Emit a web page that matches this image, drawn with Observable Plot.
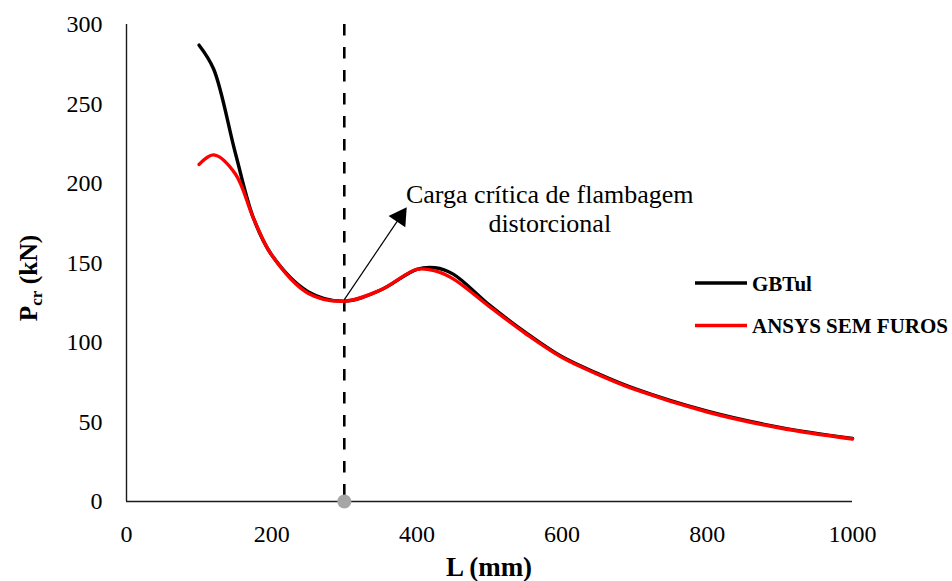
<!DOCTYPE html>
<html>
<head>
<meta charset="utf-8">
<script src="https://cdn.jsdelivr.net/npm/d3@7"></script>
<script src="https://cdn.jsdelivr.net/npm/@observablehq/plot@0.6"></script>
<style>
  html, body { margin: 0; padding: 0; background: #fff; }
  #chart { width: 952px; height: 581px; }
</style>
</head>
<body>
<div id="chart"></div>
<script>
// ---- data ----
const lengths = [100, 120, 150, 175, 200, 250, 300, 350, 400, 425, 450, 500, 550, 600, 650, 700, 800, 900, 1000];
const gbtul   = [287, 272, 219, 178, 155, 132, 126, 133, 146, 147, 143, 123.5, 106.2, 91, 80.3, 71, 56.8, 46.6, 39.6];
const ansys   = [212, 218, 206, 178, 155, 131, 126, 133, 146, 145, 140, 122.5, 105.5, 90.5, 79.8, 70.5, 56.3, 46.2, 39.3];
const seriesNames = ["GBTul", "ANSYS SEM FUROS"];
const xTicks = [0, 200, 400, 600, 800, 1000];
const yTicks = [0, 50, 100, 150, 200, 250, 300];
const criticalL = [300];
const criticalPoint = [{L: 300, P: 0}];
const arrowData = [{x1: 300, y1: 127, x2: 377, y2: 179}];
const arrowHead = [{L: 377, P: 179}];
const annotation = [{L: 583, P: 201, text: "Carga crítica de flambagem\ndistorcional"}];

const rowsG = lengths.map((L, i) => ({L, P: gbtul[i], s: seriesNames[0]}));
const rowsA = lengths.map((L, i) => ({L, P: ansys[i], s: seriesNames[1]}));

const FONT = "'Liberation Serif', 'Times New Roman', serif";

const plot = Plot.plot({
  width: 952,
  height: 581,
  marginLeft: 126,
  marginRight: 100,
  marginTop: 24,
  marginBottom: 80,
  style: {fontFamily: FONT, color: "#000", background: "#fff"},
  x: {domain: [0, 1000]},
  y: {domain: [0, 300]},
  marks: [
    Plot.axisX({ticks: xTicks, tickSize: 0, tickPadding: 23, fontSize: 24, label: null, tickFormat: d => String(d)}),
    Plot.axisY({ticks: yTicks, tickSize: 0, tickPadding: 24, fontSize: 24, label: null, tickFormat: d => String(d)}),
    Plot.ruleX([0], {stroke: "#1a1a1a", strokeWidth: 1.4}),
    Plot.ruleY([0], {stroke: "#1a1a1a", strokeWidth: 1.4}),
    Plot.ruleX(criticalL, {stroke: "#000", strokeWidth: 2.6, strokeDasharray: "11.5,11.5"}),
    Plot.line(rowsG, {x: "L", y: "P", stroke: "#000", strokeWidth: 3.4, curve: "catmull-rom"}),
    Plot.line(rowsA, {x: "L", y: "P", stroke: "#ff0000", strokeWidth: 3.4, curve: "catmull-rom"}),
    Plot.dot(criticalPoint, {x: "L", y: "P", r: 7, fill: "#a6a6a6", stroke: "none"}),
    Plot.link(arrowData, {x1: "x1", y1: "y1", x2: "x2", y2: "y2", stroke: "#000", strokeWidth: 1.2}),
    Plot.dot(arrowHead, {x: "L", y: "P", symbol: "triangle", r: 7.5, fill: "#000", stroke: "none", rotate: 34}),
    Plot.text(annotation, {x: "L", y: "P", text: "text", fontSize: 26, lineAnchor: "top", lineHeight: 1.12, textAnchor: "middle", fill: "#000"})
  ]
});

document.getElementById("chart").appendChild(plot);

// axis titles and legend
const svg = d3.select(plot);
const yl = svg.append("text")
  .attr("transform", "translate(37,278) rotate(-90)")
  .attr("text-anchor", "middle")
  .attr("font-family", FONT)
  .attr("font-weight", "bold")
  .attr("font-size", 25.5)
  .attr("fill", "#000");
yl.append("tspan").text("P");
yl.append("tspan").attr("font-size", 17).attr("dy", 5).text("cr");
yl.append("tspan").attr("dy", -5).text(" (kN)");

svg.append("text")
  .attr("x", 489).attr("y", 576)
  .attr("text-anchor", "middle")
  .attr("font-family", FONT)
  .attr("font-weight", "bold")
  .attr("font-size", 27)
  .attr("fill", "#000")
  .text("L (mm)");

const legendColors = ["#000", "#ff0000"];
seriesNames.forEach((name, i) => {
  const cy = 283 + i * 42.5;
  svg.append("line")
    .attr("x1", 695).attr("x2", 747).attr("y1", cy).attr("y2", cy)
    .attr("stroke", legendColors[i]).attr("stroke-width", 3.5);
  svg.append("text")
    .attr("x", 752).attr("y", cy + 7.5)
    .attr("text-anchor", "start")
    .attr("font-family", FONT)
    .attr("font-weight", "bold")
    .attr("font-size", 21)
    .attr("fill", "#000")
    .text(name);
});
</script>
</body>
</html>
